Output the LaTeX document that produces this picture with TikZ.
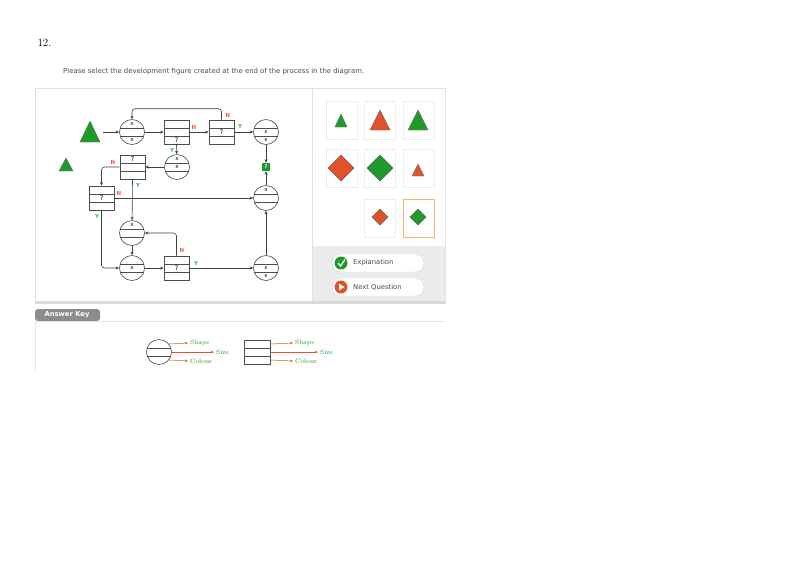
\documentclass[tikz,border=0pt]{standalone}
\usepackage{fontspec}
\newfontfamily\dv{DejaVu Sans}
\usetikzlibrary{arrows.meta,calc}
\definecolor{gg}{HTML}{1E9A2A}
\definecolor{oo}{HTML}{E0522A}
\definecolor{nred}{HTML}{F06040}
\definecolor{ygrn}{HTML}{30C030}
\begin{document}
\begin{tikzpicture}[x=1pt,y=-1pt,
 ln/.style={draw=black!75,line width=0.6pt},
 ar/.style={ln,-{Stealth[length=3.5pt,width=3pt]}},
 circ/.style={circle,draw=black!70,line width=0.6pt,minimum size=25pt,inner sep=0pt},
 box/.style={draw=black!70,line width=0.6pt,minimum width=25pt,minimum height=24pt,inner sep=0pt},
 lab/.style={font=\dv\fontsize{5.5}{5.5}\selectfont,inner sep=0pt},
 nl/.style={font=\dv\bfseries\fontsize{5.5}{6}\selectfont,text=nred,inner sep=0pt},
 yl/.style={font=\dv\bfseries\fontsize{5.5}{6}\selectfont,text=ygrn,inner sep=0pt},
 cell/.style={draw=black!7,line width=0.5pt},
 ak/.style={draw=oo,line width=0.5pt,-{Stealth[length=3pt,width=2.5pt]}},
 akt/.style={font=\fontsize{6.5}{7}\selectfont,text=gg,inner sep=0pt,anchor=west}]
\useasboundingbox (0,0) rectangle (800,566);
\fill[white] (0,0) rectangle (800,566);
\node[anchor=west,font=\fontsize{11}{12}\selectfont] (num) at (34,43) {12.};
\node[anchor=west,font=\dv\fontsize{6.9}{7}\selectfont,text=black!70,inner sep=0pt] (ins) at (63,72) {Please select the development figure created at the end of the process in the diagram.};
% panel
\draw[black!12,line width=1pt] (35,88) rectangle (445,303);
\fill[black!8] (312,246) rectangle (445,303);
\draw[black!12,line width=1pt] (312,88) -- (312,303);
\fill[black!15] (35,301) rectangle (445,304);
\newcommand\circlines[1]{\draw[black!70,line width=0.5pt] ($(#1)+(-11.6,-4)$) -- ($(#1)+(11.6,-4)$) ($(#1)+(-11.6,4)$) -- ($(#1)+(11.6,4)$);}
\newcommand\boxlines[1]{\draw[black!70,line width=0.5pt] ($(#1)+(-12.5,-4)$) -- ($(#1)+(12.5,-4)$) ($(#1)+(-12.5,4)$) -- ($(#1)+(12.5,4)$);}
% triangles start
\fill[gg,draw=black!60] (80,142) -- (100,142) -- (90,121) -- cycle;
\fill[gg,draw=black!60] (59,171) -- (73,171) -- (66,158) -- cycle;
\coordinate (t1) at (103,132);
% circles
\node[circ] (c1) at (132,132) {};
\node[circ] (c2) at (177,167) {};
\node[circ] (ctr) at (266,132) {};
\node[circ] (crm) at (266,198) {};
\node[circ] (cbt) at (132,233) {};
\node[circ] (cbl) at (132,268) {};
\node[circ] (cbr) at (266,268) {};
\foreach \c in {c1,c2,ctr,crm,cbt,cbl,cbr} {\circlines{\c}}
% boxes
\node[box] (r1) at (176.5,132) {};
\node[box] (r2) at (221.5,132) {};
\node[box] (r3) at (132.5,167) {};
\node[box] (r4) at (101.5,198) {};
\node[box] (r5) at (176.5,268) {};
\foreach \c in {r1,r2,r3,r4,r5} {\boxlines{\c}}
% texts
\node[lab] at ($(c1)+(0,-8)$) {x}; \node[lab] at ($(c1)+(0,8)$) {x};
\node[lab] at ($(c2)+(0,-8)$) {x}; \node[lab] at ($(c2)+(0,0)$) {x};
\node[lab] at ($(ctr)+(0,0)$) {x}; \node[lab] at ($(ctr)+(0,8)$) {x};
\node[lab] at ($(crm)+(0,-8)$) {x};
\node[lab] at ($(cbt)+(0,-8)$) {x};
\node[lab] at ($(cbl)+(0,0)$) {x};
\node[lab] at ($(cbr)+(0,0)$) {x}; \node[lab] at ($(cbr)+(0,8)$) {x};
\node[lab,font=\dv\fontsize{6.5}{6.5}\selectfont] at ($(r1)+(0,8)$) {?};
\node[lab,font=\dv\fontsize{6.5}{6.5}\selectfont] at (r2) {?};
\node[lab,font=\dv\fontsize{6.5}{6.5}\selectfont] at ($(r3)+(0,-8)$) {?};
\node[lab,font=\dv\fontsize{6.5}{6.5}\selectfont] at (r4) {?};
\node[lab,font=\dv\fontsize{6.5}{6.5}\selectfont] at (r5) {?};
\node[fill=gg,minimum size=8pt,inner sep=0pt,font=\dv\bfseries\fontsize{5}{5}\selectfont,text=white] (q) at (266,167) {?};
% connectors
\draw[ar] (t1) -- (c1);
\draw[ar] (c1) -- (r1);
\draw[ar] (r1) -- (r2);
\draw[ar] (r2) -- (ctr);
\draw[ar,rounded corners=3pt] (r2.north) -- ++(0,-11) -| (c1.north);
\draw[ar] (ctr) -- (q);
\draw[ar] (r1.south) -- (c2);
\draw[ar] (c2) -- (r3);
\draw[ar,rounded corners=3pt] (r3.west) -| (r4.north);
\draw[ar] (r4) -- (crm);
\draw[ar] (crm) -- (q);
\draw[ar] (r3.south) -- (cbt);
\draw[ar,rounded corners=3pt] (r4.south) |- (cbl);
\draw[ar] (cbt) -- (cbl);
\draw[ar] (cbl) -- (r5);
\draw[ar,rounded corners=3pt] (r5.north) |- (cbt);
\draw[ar] (r5) -- (cbr);
\draw[ar] (cbr) -- (crm);
% labels
\node[nl] at (194,127) {N};
\node[nl] at (228,115) {N};
\node[yl] at (240,126) {Y};
\node[yl] at (172,150) {Y};
\node[nl] at (113,162) {N};
\node[yl] at (138,185) {Y};
\node[nl] at (119,193) {N};
\node[yl] at (97,216) {Y};
\node[nl] at (182,250) {N};
\node[yl] at (196,263) {Y};
% option cells
\foreach \x/\y [count=\i] in {326/101,364/101,403/101,326/149,364/149,403/149,364/199,403/199}
  \draw[cell] (\x,\y) rectangle ++(31,38);
\draw[orange!60,line width=0.7pt] (403,199) rectangle ++(31,38);
\fill[gg,draw=black!60] (335,127) -- (347,127) -- (341,114) -- cycle;
\fill[oo,draw=black!60] (370,130) -- (390,130) -- (380,110) -- cycle;
\fill[gg,draw=black!60] (408,130) -- (428,130) -- (418,110) -- cycle;
\fill[oo,draw=black!60] (341,155) -- (354,168) -- (341,181) -- (328,168) -- cycle;
\fill[gg,draw=black!60] (380,155) -- (393,168) -- (380,181) -- (367,168) -- cycle;
\fill[oo,draw=black!60] (412,176) -- (424,176) -- (418,164) -- cycle;
\fill[oo,draw=black!60] (380,209) -- (388,217) -- (380,225) -- (372,217) -- cycle;
\fill[gg,draw=black!60] (418,209) -- (426,217) -- (418,225) -- (410,217) -- cycle;
% buttons
\draw[black!15,fill=white,rounded corners=9pt] (332,254) rectangle (424,272);
\draw[black!15,fill=white,rounded corners=9pt] (332,278) rectangle (424,296);
\fill[gg] (341,263) circle (6.5pt);
\draw[white,line width=1.3pt] (338,263) -- (340.5,266) -- (345,259.5);
\fill[oo] (341,287) circle (6.5pt);
\fill[white] (339,283.5) -- (339,290.5) -- (344.5,287) -- cycle;
\node[anchor=west,font=\dv\fontsize{6.8}{7}\selectfont,text=black!70,inner sep=0pt] (ex) at (353,263) {Explanation};
\node[anchor=west,font=\dv\fontsize{6.8}{7}\selectfont,text=black!70,inner sep=0pt] (nx) at (353,287) {Next Question};
% answer key
\fill[black!45,rounded corners=3pt] (35,309) rectangle (100,321);
\node[font=\dv\bfseries\fontsize{6.8}{7}\selectfont,text=white,inner sep=0pt] (akn) at (67,315) {Answer Key};
\draw[black!10] (35,321) -- (445,321);
\draw[black!10] (35,321) -- (35,372);
\node[circle,draw=black!70,line width=0.6pt,minimum size=25pt,inner sep=0pt] (kc) at (159,352) {};
\circlines{kc}
\node[box,minimum height=24pt,minimum width=26pt] (kr) at (257,352) {};
\boxlines{kr}
\node[akt] (s1) at (190,343) {Shape};
\node[akt] (z1) at (216,352) {Size};
\node[akt] (o1) at (190,361) {Colour};
\draw[ak] ($(kc)+(10,-8)$) -- ($(s1.west)+(-2,0)$);
\draw[ak] (kc.east) -- ($(z1.west)+(-2,0)$);
\draw[ak] ($(kc)+(10,8)$) -- ($(o1.west)+(-2,0)$);
\node[akt] (s2) at (295,343) {Shape};
\node[akt] (z2) at (320,352) {Size};
\node[akt] (o2) at (295,361) {Colour};
\draw[ak] ($(kr.east)+(0,-8)$) -- ($(s2.west)+(-2,0)$);
\draw[ak] (kr.east) -- ($(z2.west)+(-2,0)$);
\draw[ak] ($(kr.east)+(0,8)$) -- ($(o2.west)+(-2,0)$);
\end{tikzpicture}
\end{document}
